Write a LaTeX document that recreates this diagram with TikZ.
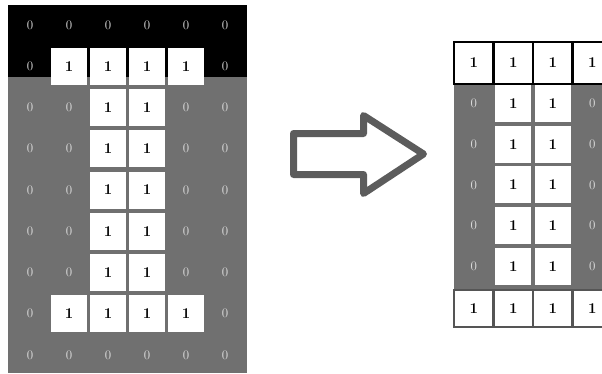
\documentclass[tikz,border=0pt]{standalone}
\usetikzlibrary{positioning}
\definecolor{bgGray}{RGB}{112,112,112}
\definecolor{zeroText}{RGB}{225,225,225}
\definecolor{arrowLine}{RGB}{92,92,92}
\definecolor{rimGray}{RGB}{85,85,85}

\begin{document}
\begin{tikzpicture}[
  x=1pt, y=-1pt,
  cell1/.style={fill=white, minimum width=36pt, minimum height=37pt, inner sep=0pt, font=\bfseries\fontsize{15}{15}\selectfont},
  cell0/.style={minimum width=36pt, minimum height=37pt, inner sep=0pt, text=zeroText, font=\fontsize{13}{13}\selectfont},
  topcell/.style={fill=white, draw=black, line width=2.4pt, minimum width=39.5pt, minimum height=42pt, inner sep=0pt, font=\bfseries\fontsize{15}{15}\selectfont},
  botcell/.style={fill=white, draw=rimGray, line width=2.4pt, minimum width=39.5pt, minimum height=37pt, inner sep=0pt, font=\bfseries\fontsize{15}{15}\selectfont},
  bigarrow/.style={draw=arrowLine, line width=7pt, line join=round, fill=white},
]
\useasboundingbox (0,0) rectangle (602,373);

% ======================= left: the full 9 x 6 image =======================
\fill[black]  (8,5)  rectangle (247,77);
\fill[bgGray] (8,77) rectangle (247,373);

\foreach \r/\v in {0/{0,0,0,0,0,0}, 1/{0,1,1,1,1,0}, 2/{0,0,1,1,0,0}, 3/{0,0,1,1,0,0},
                   4/{0,0,1,1,0,0}, 5/{0,0,1,1,0,0}, 6/{0,0,1,1,0,0}, 7/{0,1,1,1,1,0},
                   8/{0,0,0,0,0,0}}{
  \foreach \b [count=\c from 0] in \v {
    \node[cell\b] (L-\r-\c) at ({30+39*\c}, {25+41.25*\r}) {\b};
  }
}

% ======================= arrow between the two =======================
\draw[bigarrow] (293.5,133.5) -- (363.5,133.5) -- (363.5,115.5) -- (423.5,154)
  -- (363.5,193.5) -- (363.5,174.5) -- (293.5,174.5) -- cycle;

% ======================= right: the cropped 7 x 4 image =======================
\fill[bgGray] (454,84) rectangle (612,290);

\foreach \c in {0,...,3}{
  \node[topcell] (R-0-\c) at ({473.75+39.5*\c}, 63) {1};
  \node[botcell] (R-6-\c) at ({473.75+39.5*\c}, 308.5) {1};
}
\foreach \r in {1,...,5}{
  \foreach \b [count=\c from 0] in {0,1,1,0}{
    \node[cell\b] (R-\r-\c) at ({473.75+39.5*\c}, {103.5+40.7*(\r-1)}) {\b};
  }
}

\end{tikzpicture}
\end{document}
